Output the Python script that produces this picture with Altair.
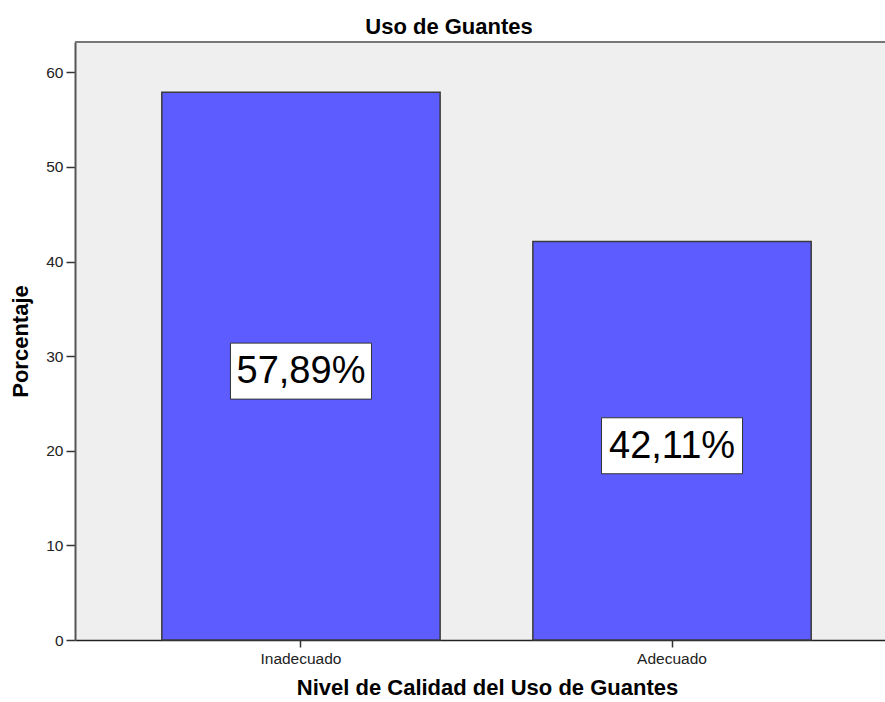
import altair as alt
import pandas as pd

categories = ["Inadecuado", "Adecuado"]
values = [57.89, 42.11]
labels = ["57,89%", "42,11%"]

df = pd.DataFrame({"cat": categories, "val": values, "lab": labels})

W, H = 810, 598
FONT = "Liberation Sans"

x = alt.X(
    "cat:N",
    sort=categories,
    scale=alt.Scale(range=[0, 823], paddingInner=0.25, paddingOuter=0.234),
    axis=alt.Axis(
        title="Nivel de Calidad del Uso de Guantes",
        titleFontSize=22,
        titleFontWeight="bold",
        titleColor="black",
        titleX=412,
        titlePadding=11,
        labelFontSize=15.5,
        labelColor="#222222",
        labelAngle=0,
        labelPadding=4,
        tickSize=7,
        tickColor="#333333",
        tickWidth=1.5,
        domainColor="#222222",
        domainWidth=1.5,
        grid=False,
    ),
)

yscale = alt.Scale(domain=[0, 63.2], nice=False, zero=True)

bars = alt.Chart(df).mark_bar(
    color="#5C5CFF", stroke="#3a3a3a", strokeWidth=1.5
).encode(
    x=x,
    y=alt.Y(
        "val:Q",
        scale=yscale,
        axis=alt.Axis(
            title="Porcentaje",
            titleFontSize=22,
            titleFontWeight="bold",
            titleColor="black",
            titlePadding=13,
            values=[0, 10, 20, 30, 40, 50, 60],
            labelFontSize=15.5,
            labelColor="#222222",
            labelPadding=3,
            tickSize=9,
            tickColor="#333333",
            tickWidth=1.5,
            domainColor="#555555",
            domainWidth=2,
            grid=False,
        ),
    ),
)

mid = alt.Chart(df).transform_calculate(mid="datum.val / 2")

boxes = mid.mark_rect(
    width=141, height=56, yOffset=5, fill="white", stroke="#333333", strokeWidth=1
).encode(
    x=alt.X("cat:N", sort=categories),
    y=alt.Y("mid:Q", scale=yscale),
)

texts = mid.mark_text(
    fontSize=38, font=FONT, color="black", baseline="middle", align="center", yOffset=6
).encode(
    x=alt.X("cat:N", sort=categories),
    y=alt.Y("mid:Q", scale=yscale),
    text="lab:N",
)

top_rule = alt.Chart(df).mark_rule(color="#777777", strokeWidth=2).encode(
    x=alt.value(0), x2=alt.value(W), y=alt.value(0)
)

chart = (
    alt.layer(bars, boxes, texts, top_rule)
    .properties(
        width=W,
        height=H,
        title=alt.TitleParams(
            "Uso de Guantes",
            fontSize=22,
            fontWeight="bold",
            color="black",
            anchor="middle",
            baseline="alphabetic",
            offset=10,
            dy=25,
            dx=-31,
            font=FONT,
        ),
        autosize=alt.AutoSizeParams(type="none"),
        padding={"left": 75, "top": 42, "right": 0, "bottom": 62},
    )
    .configure(font=FONT, background="white")
    .configure_view(fill="#EFEFEF", stroke=None)
)

chart.save("out.html", embed_options={"renderer": "svg", "actions": False})
